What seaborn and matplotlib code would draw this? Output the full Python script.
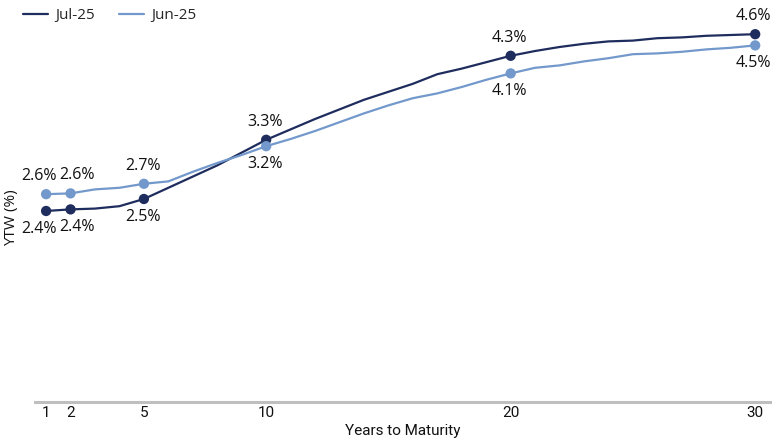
import matplotlib
import matplotlib.pyplot as plt
import pandas as pd
import seaborn as sns

matplotlib.use("Agg")

YEARS = list(range(1, 31))
JUL_25 = [2.39, 2.41, 2.42, 2.45, 2.54, 2.68, 2.82, 2.96, 3.12, 3.28,
          3.41, 3.54, 3.66, 3.78, 3.88, 3.98, 4.10, 4.17, 4.25, 4.33,
          4.39, 4.44, 4.48, 4.51, 4.52, 4.55, 4.56, 4.58, 4.59, 4.60]
JUN_25 = [2.60, 2.61, 2.66, 2.68, 2.73, 2.76, 2.88, 2.99, 3.09, 3.20,
          3.29, 3.39, 3.50, 3.61, 3.71, 3.80, 3.86, 3.94, 4.03, 4.11,
          4.18, 4.21, 4.26, 4.30, 4.35, 4.36, 4.38, 4.41, 4.43, 4.46]
KEY_YEARS = [1, 2, 5, 10, 20, 30]
SERIES = ["Jul-25", "Jun-25"]
COLORS = {"Jul-25": "#1f2d5e", "Jun-25": "#7399cc"}

df = pd.DataFrame({
    "year": YEARS * 2,
    "ytw": JUL_25 + JUN_25,
    "series": ["Jul-25"] * len(YEARS) + ["Jun-25"] * len(YEARS),
})
key = df[df["year"].isin(KEY_YEARS)]

sns.set_theme(style="white")
plt.rcParams["font.family"] = ["Open Sans", "DejaVu Sans"]
NARROW = ["Liberation Sans Narrow", "Roboto", "DejaVu Sans"]

fig = plt.figure(figsize=(7.8, 4.4), dpi=100)
ax = fig.add_axes([0.045, 0.086, 0.942, 0.909])

sns.lineplot(data=df, x="year", y="ytw", hue="series", hue_order=SERIES,
             palette=COLORS, linewidth=1.6, ax=ax)
sns.scatterplot(data=key, x="year", y="ytw", hue="series", hue_order=SERIES,
                palette=COLORS, s=55, edgecolor="none", legend=False,
                zorder=3, ax=ax)

# label placement: Jul below early points, above from 10 on; Jun the reverse
nudge = {1: -5, 2: 5}
for _, row in key.iterrows():
    above = (row["series"] == "Jun-25") == (row["year"] < 10)
    ax.annotate(f"{row['ytw']:.1f}%", (row["year"], row["ytw"]),
                xytext=(nudge.get(row["year"], -1), 13 if above else -13),
                textcoords="offset points", ha="center", va="center",
                fontsize=11.5, color="#111111")

ax.set_xlim(0.55, 30.6)
ax.set_ylim(0, 5)
ax.set_xticks(KEY_YEARS)
ax.set_yticks([])
for lab in ax.get_xticklabels():
    lab.set_family(NARROW)
ax.tick_params(axis="x", length=0, pad=3, labelsize=11, colors="#111111")
ax.set_xlabel("Years to Maturity", fontsize=11, color="#111111",
              family=NARROW, labelpad=3)
ax.set_ylabel("YTW (%)", fontsize=11, color="#111111")
ax.yaxis.set_label_coords(-0.022, 0.46)

sns.despine(ax=ax, left=True, top=True, right=True)
ax.spines["bottom"].set_color("#bfbfbf")
ax.spines["bottom"].set_linewidth(2.2)

ax.legend(title=None, frameon=False, loc="upper left", ncol=2,
          bbox_to_anchor=(-0.035, 1.02), fontsize=11, handlelength=1.6,
          columnspacing=1.6, handletextpad=0.5)

fig.savefig("out.png", dpi=100)
